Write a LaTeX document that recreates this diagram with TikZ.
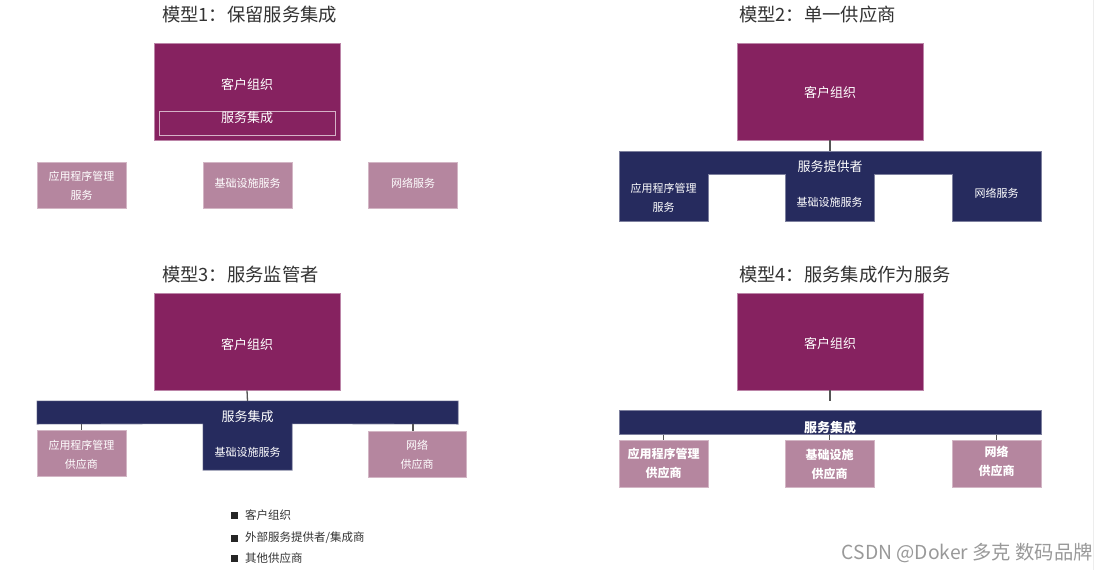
\documentclass[tikz,border=0pt]{standalone}
\usepackage{fontspec}
\setmainfont{Noto Sans CJK SC}
\usetikzlibrary{calc}
\definecolor{custc}{HTML}{862260}
\definecolor{navyc}{HTML}{262B5E}
\definecolor{pinkc}{HTML}{B5869F}
\definecolor{titlec}{HTML}{333333}
\definecolor{linec}{HTML}{555555}
\tikzset{
  custbox/.style={fill=custc, draw=custc!55!white, line width=0.6pt, minimum width=186pt, minimum height=97pt, inner sep=0pt},
  pinkbox/.style={fill=pinkc, draw=pinkc!60!white, line width=0.6pt, minimum width=89pt, minimum height=46pt, inner sep=0pt},
  navybox/.style={fill=navyc, draw=none, inner sep=0pt},
  navyline/.style={draw=navyc!60!white, line width=0.6pt},
  innerbox/.style={draw=custc!35!white, line width=0.7pt, minimum width=176pt, minimum height=24pt, inner sep=0pt},
  bigtxt/.style={text=white, font=\fontsize{13}{15}\selectfont, inner sep=0pt, align=center},
  smalltxt/.style={text=white, font=\fontsize{11}{19}\selectfont, inner sep=0pt, align=center},
  boldtxt/.style={text=white, font=\bfseries\fontsize{12}{19}\selectfont, inner sep=0pt, align=center},
  titletxt/.style={text=titlec, font=\fontsize{18.3}{22}\selectfont, inner sep=0pt, anchor=west},
  conn/.style={draw=linec, line width=1.3pt},
  legsq/.style={fill=black!85, minimum size=7pt, inner sep=0pt},
  legtxt/.style={text=titlec, font=\fontsize{11.5}{13}\selectfont, inner sep=0pt, anchor=west},
}
\begin{document}
\begin{tikzpicture}[x=1pt,y=-1pt]
\useasboundingbox (0,0) rectangle (1109,570);
\fill[white] (0,0) rectangle (1109,570);
\draw[black!7, line width=0.8pt] (1093,0) -- (1093,570);

% ---------------- Model 1 ----------------
\node[titletxt] (t1) at (162,15) {模型1：保留服务集成};
\node[custbox] (c1) at (247,92) {};
\node[bigtxt] (c1t) at (247,85) {客户组织};
\node[innerbox] (i1) at (247,123) {};
\node[bigtxt] (i1t) at (247,118) {服务集成};
\node[pinkbox] (a1) at (81.5,185) {};
\node[smalltxt] (a1t) at (81.5,185.5) {应用程序管理\\服务};
\node[pinkbox] (b1) at (247.5,185) {};
\node[smalltxt] (b1t) at (247.5,183) {基础设施服务};
\node[pinkbox] (n1) at (413,185) {};
\node[smalltxt] (n1t) at (413,183) {网络服务};

% ---------------- Model 2 ----------------
\node[titletxt] (t2) at (739,15) {模型2：单一供应商};
\node[custbox] (c2) at (830,91.5) {};
\node[bigtxt] (c2t) at (830,93) {客户组织};
\node[navybox, minimum width=422pt, minimum height=23pt] (bar2) at (830,162.5) {};
\node[navybox, minimum width=89pt, minimum height=47pt] (a2) at (663.5,197.5) {};
\node[navybox, minimum width=89pt, minimum height=47pt] (b2) at (829.5,197.5) {};
\node[navybox, minimum width=89pt, minimum height=47pt] (n2) at (996.5,197.5) {};
\path[navyline] (bar2.north west) -- (bar2.north east) -- (n2.south east) -- (n2.south west)
  -- (n2.north west) -- (b2.north east) -- (b2.south east) -- (b2.south west)
  -- (b2.north west) -- (a2.north east) -- (a2.south east) -- (a2.south west) -- cycle;
\node[bigtxt] (bar2t) at (830,167) {服务提供者};
\node[smalltxt] (a2t) at (663.5,197.5) {应用程序管理\\服务};
\node[smalltxt] (b2t) at (829.5,202) {基础设施服务};
\node[smalltxt] (n2t) at (996.5,193) {网络服务};
\draw[conn] (c2.south) -- (bar2.north);

% ---------------- Model 3 ----------------
\node[titletxt] (t3) at (162,275) {模型3：服务监管者};
\node[custbox] (c3) at (247,341.5) {};
\node[bigtxt] (c3t) at (247,345) {客户组织};
\node[navybox, minimum width=421pt, minimum height=23pt] (bar3) at (247.5,412.5) {};
\node[navybox, minimum width=89pt, minimum height=46pt] (m3) at (247.5,447) {};
\path[navyline] (bar3.north west) -- (bar3.north east) -- (bar3.south east) -- (m3.north east)
  -- (m3.south east) -- (m3.south west) -- (m3.north west) -- (bar3.south west) -- cycle;
\node[bigtxt] (bar3t) at (247.5,417) {服务集成};
\node[smalltxt] (m3t) at (247.5,452) {基础设施服务};
\node[pinkbox] (a3) at (81.5,453.5) {};
\node[smalltxt] (a3t) at (81.5,454.5) {应用程序管理\\供应商};
\node[pinkbox, minimum width=98pt] (n3) at (417,454) {};
\node[smalltxt] (n3t) at (417,455) {网络\\供应商};
\coordinate (n3x) at (413,0);
\draw[conn] (c3.south) -- (bar3.north);
\draw[conn] (bar3.south -| a3.north) -- (a3.north);
\draw[conn] (bar3.south -| n3x) -- (n3.north -| n3x);

% legend
\node[legsq] (l1) at (234,515) {};
\node[legtxt] (l1t) at (245,515) {客户组织};
\node[legsq] (l2) at (234,538) {};
\node[legtxt] (l2t) at (245,538) {外部服务提供者/集成商};
\node[legsq] (l3) at (234,558) {};
\node[legtxt] (l3t) at (245,558) {其他供应商};

% ---------------- Model 4 ----------------
\node[titletxt] (t4) at (739,275) {模型4：服务集成作为服务};
\node[custbox] (c4) at (830,341.5) {};
\node[bigtxt] (c4t) at (830,343.5) {客户组织};
\coordinate (c4e) at ($(c4.south)+(0,11)$);
\draw[conn] (c4.south) -- (c4e);
\node[navybox, draw=navyc!60!white, line width=0.6pt, minimum width=422pt, minimum height=24pt] (bar4) at (830,422.5) {};
\node[boldtxt, font=\bfseries\fontsize{13}{15}\selectfont] (bar4t) at (830,428) {服务集成};
\node[pinkbox, minimum height=47pt] (a4) at (663.5,464) {};
\node[boldtxt] (a4t) at (663.5,463.5) {应用程序管理\\供应商};
\node[pinkbox, minimum height=47pt] (b4) at (829.5,464) {};
\node[boldtxt] (b4t) at (829.5,464) {基础设施\\供应商};
\node[pinkbox, minimum height=47pt] (n4) at (996.5,464) {};
\node[boldtxt] (n4t) at (996.5,461) {网络\\供应商};
\draw[conn] (bar4.south -| a4.north) -- (a4.north);
\draw[conn] (bar4.south -| b4.north) -- (b4.north);
\draw[conn] (bar4.south -| n4.north) -- (n4.north);

% watermark
\node[text=black!40, font=\fontsize{19.3}{22}\selectfont, inner sep=0pt, anchor=east] (wm) at (1093,553) {CSDN @Doker 多克 数码品牌};
\end{tikzpicture}
\end{document}
